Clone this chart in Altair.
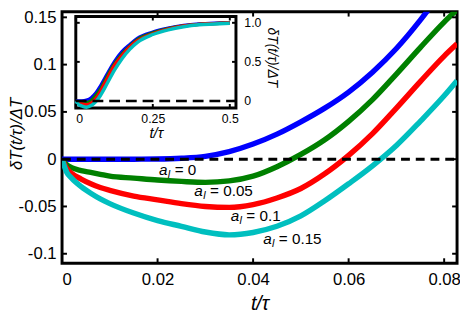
import altair as alt
import pandas as pd

# ---------------- data ----------------
series = ["0", "0.05", "0.1", "0.15"]
colors = ["#0000ff", "#008000", "#ff0000", "#00bfbf"]

# main panel: t/tau and deltaT/DeltaT
t_main = [0, 0.001, 0.002, 0.004, 0.006, 0.008, 0.01, 0.015, 0.02, 0.025, 0.03,
          0.035, 0.04, 0.045, 0.05, 0.055, 0.06, 0.065, 0.07, 0.075, 0.08, 0.0827]
main_a0 = [0, 0, 0, 0, 0, 0, 0, 0, 0.0002, 0.001, 0.003,
           0.008, 0.016, 0.0265, 0.0395, 0.054, 0.071, 0.092, 0.117, 0.147, 0.181, 0.2]
main_a005 = [0, -0.006, -0.009, -0.012, -0.014, -0.016, -0.018, -0.020, -0.022, -0.0235, -0.0245,
             -0.023, -0.018, -0.008, 0.005, 0.0205, 0.040, 0.063, 0.090, 0.118, 0.145, 0.158]
main_a01 = [0, -0.010, -0.015, -0.021, -0.026, -0.030, -0.033, -0.039, -0.043, -0.047, -0.050,
            -0.051, -0.048, -0.041, -0.031, -0.0155, 0.004, 0.027, 0.054, 0.082, 0.109, 0.122]
main_a015 = [0, -0.014, -0.020, -0.029, -0.036, -0.042, -0.047, -0.057, -0.065, -0.071, -0.077,
             -0.080, -0.0775, -0.071, -0.060, -0.044, -0.026, -0.007, 0.0145, 0.040, 0.067, 0.083]

# inset: longer time range
t_inset = [0, 0.01, 0.02, 0.035, 0.05, 0.065, 0.08, 0.1, 0.125, 0.15, 0.175, 0.2,
           0.25, 0.3, 0.35, 0.4, 0.45, 0.5]
inset_a0 = [0, 0, 0, 0.01, 0.04, 0.10, 0.19, 0.33, 0.50, 0.63, 0.72, 0.80,
            0.88, 0.93, 0.965, 0.985, 0.995, 1.0]
inset_a005 = [0, -0.018, -0.022, -0.023, 0.004, 0.07, 0.15, 0.30, 0.47, 0.60, 0.70, 0.785,
              0.87, 0.925, 0.96, 0.98, 0.99, 1.0]
inset_a01 = [0, -0.03, -0.04, -0.05, -0.03, 0.03, 0.12, 0.27, 0.45, 0.58, 0.69, 0.77,
             0.86, 0.92, 0.96, 0.98, 0.99, 1.0]
inset_a015 = [0, -0.047, -0.065, -0.08, -0.06, -0.01, 0.07, 0.21, 0.39, 0.54, 0.66, 0.75,
              0.85, 0.91, 0.95, 0.975, 0.985, 0.995]

# curve annotations (position in data units)
ann_text = ["= 0", "= 0.05", "= 0.1", "= 0.15"]
ann_t = [0.0203, 0.0277, 0.0353, 0.0421]
ann_v = [-0.0115, -0.034, -0.0605, -0.085]

# axes
x_ticks = [0, 0.02, 0.04, 0.06, 0.08]
y_ticks = [-0.1, -0.05, 0, 0.05, 0.1, 0.15]
x_dom = [0, 0.0827]
y_dom = [-0.11, 0.156]
xi_ticks = [0, 0.25, 0.5]
yi_ticks = [0, 0.5, 1.0]
xi_dom = [0, 0.52]
yi_dom = [-0.09, 1.08]

# ---------------- layout constants ----------------
W, H = 402, 256
IX0, IX1 = 14, 177      # inset left/right in plot pixels
IY0, IY1 = 5, 98        # inset top/bottom in plot pixels
FONT = "Liberation Sans"

main_vals = [main_a0, main_a005, main_a01, main_a015]
inset_vals = [inset_a0, inset_a005, inset_a01, inset_a015]


def xs():
    return alt.Scale(domain=x_dom, nice=False, zero=False)


def ys():
    return alt.Scale(domain=y_dom, nice=False, zero=False)


def xsi():
    return alt.Scale(domain=xi_dom, range=[IX0, IX1], nice=False, zero=False)


def ysi():
    return alt.Scale(domain=yi_dom, range=[IY1, IY0], nice=False, zero=False)


layers = []
# ---------------- main panel ----------------
for name, vals, col in zip(series, main_vals, colors):
    d = pd.DataFrame({"t": t_main, "v": vals})
    layers.append(
        alt.Chart(d).mark_line(strokeWidth=5.5, clip=True, interpolate="monotone", color=col)
        .encode(x=alt.X("t:Q", scale=xs(), axis=None), y=alt.Y("v:Q", scale=ys(), axis=None))
    )

zero_df = pd.DataFrame({"t": x_dom, "v": [0, 0]})
layers.append(alt.Chart(zero_df).mark_line(color="black", strokeWidth=3, strokeDash=[9, 6]).encode(
    x=alt.X("t:Q", scale=xs(), axis=alt.Axis(
        orient="bottom", values=x_ticks, labelExpr="'' + datum.value", ticks=False, domain=False,
        grid=False, labelFontSize=17, labelPadding=9, labelColor="black", labelFont=FONT,
        title="t/τ", titleFontSize=20, titleFontStyle="italic", titleFontWeight="normal",
        titleFont=FONT, titleBaseline="top", titleY=31, titleColor="black")),
    y=alt.Y("v:Q", scale=ys(), axis=alt.Axis(
        orient="left", values=y_ticks, labelExpr="'' + datum.value", ticks=False, domain=False,
        grid=False, labelFontSize=17, labelPadding=6, labelColor="black", labelFont=FONT,
        title="δT(t/τ)/ΔT", titleFontSize=17, titleFontStyle="italic", titleFontWeight="normal",
        titleFont=FONT, titleAngle=-90, titleX=-46, titleY=124, titleBaseline="middle",
        titleAlign="center", titleColor="black")),
))

xt = pd.DataFrame({"t": x_ticks})
yt = pd.DataFrame({"v": y_ticks})
tick_style = dict(color="black", strokeWidth=2)
layers += [
    alt.Chart(xt).mark_rule(**tick_style).encode(x=alt.X("t:Q", scale=xs(), axis=None), y=alt.value(H), y2=alt.value(H - 5)),
    alt.Chart(xt).mark_rule(**tick_style).encode(x=alt.X("t:Q", scale=xs(), axis=None), y=alt.value(0), y2=alt.value(5)),
    alt.Chart(yt).mark_rule(**tick_style).encode(y=alt.Y("v:Q", scale=ys(), axis=None), x=alt.value(0), x2=alt.value(5)),
    alt.Chart(yt).mark_rule(**tick_style).encode(y=alt.Y("v:Q", scale=ys(), axis=None), x=alt.value(W), x2=alt.value(W - 5)),
]

ann = pd.DataFrame({"t": ann_t, "v": ann_v, "txt": ann_text, "a": ["a"] * 4, "l": ["l"] * 4})


def aenc():
    return dict(x=alt.X("t:Q", scale=xs(), axis=None), y=alt.Y("v:Q", scale=ys(), axis=None))


layers += [
    alt.Chart(ann).mark_text(font=FONT, fontSize=15.5, fontStyle="italic", align="left", baseline="middle")
    .encode(text="a:N", **aenc()),
    alt.Chart(ann).mark_text(font=FONT, fontSize=11, fontStyle="italic", align="left", baseline="middle", dx=9, dy=5)
    .encode(text="l:N", **aenc()),
    alt.Chart(ann).mark_text(font=FONT, fontSize=15.5, align="left", baseline="middle", dx=16)
    .encode(text="txt:N", **aenc()),
]

# ---------------- inset ----------------
frame_df = pd.DataFrame({"x0": [xi_dom[0]], "x1": [xi_dom[1]], "y0": [yi_dom[0]], "y1": [yi_dom[1]]})
layers.append(alt.Chart(frame_df).mark_rect(fill="white", stroke="black", strokeWidth=3).encode(
    x=alt.X("x0:Q", scale=xsi(), axis=alt.Axis(
        orient="bottom", offset=IY1 - H, values=xi_ticks, labelExpr="'' + datum.value",
        ticks=False, domain=False, grid=False, labelFontSize=12.5, labelPadding=5, labelColor="black",
        labelFont=FONT, title="t/τ", titleFontSize=15, titleFontStyle="italic",
        titleFontWeight="normal", titleFont=FONT, titleBaseline="top", titleY=18, titleColor="black")),
    x2="x1:Q",
    y=alt.Y("y0:Q", scale=ysi(), axis=alt.Axis(
        orient="right", offset=IX1 - W, values=yi_ticks,
        labelExpr="datum.value == 1 ? '1.0' : '' + datum.value",
        ticks=False, domain=False, grid=False, labelFontSize=12.5, labelPadding=8, labelColor="black",
        labelFont=FONT, title="δT(t/τ)/ΔT", titleFontSize=14, titleFontStyle="italic",
        titleFontWeight="normal", titleFont=FONT, titleAngle=90, titleX=36, titleY=46,
        titleBaseline="middle", titleAlign="center", titleColor="black")),
    y2="y1:Q",
))
for name, vals, col in zip(series, inset_vals, colors):
    d = pd.DataFrame({"t": t_inset, "v": vals})
    layers.append(
        alt.Chart(d).mark_line(strokeWidth=3.5, interpolate="monotone", color=col)
        .encode(x=alt.X("t:Q", scale=xsi(), axis=None), y=alt.Y("v:Q", scale=ysi(), axis=None))
    )
izero = pd.DataFrame({"t": xi_dom, "v": [0, 0]})
layers.append(
    alt.Chart(izero).mark_line(color="black", strokeWidth=2.5, strokeDash=[11, 6])
    .encode(x=alt.X("t:Q", scale=xsi(), axis=None), y=alt.Y("v:Q", scale=ysi(), axis=None))
)
xti = pd.DataFrame({"t": xi_ticks})
yti = pd.DataFrame({"v": yi_ticks})
layers += [
    alt.Chart(xti).mark_rule(**tick_style).encode(x=alt.X("t:Q", scale=xsi(), axis=None), y=alt.value(IY1), y2=alt.value(IY1 - 4)),
    alt.Chart(xti).mark_rule(**tick_style).encode(x=alt.X("t:Q", scale=xsi(), axis=None), y=alt.value(IY0), y2=alt.value(IY0 + 4)),
    alt.Chart(yti).mark_rule(**tick_style).encode(y=alt.Y("v:Q", scale=ysi(), axis=None), x=alt.value(IX0), x2=alt.value(IX0 + 4)),
    alt.Chart(yti).mark_rule(**tick_style).encode(y=alt.Y("v:Q", scale=ysi(), axis=None), x=alt.value(IX1), x2=alt.value(IX1 - 4)),
]

chart = (
    alt.layer(*layers)
    .resolve_scale(x="independent", y="independent")
    .properties(width=W, height=H, autosize=alt.AutoSizeParams(type="none"),
                padding={"left": 55, "top": 1, "right": 3, "bottom": 50})
    .configure_view(stroke="black", strokeWidth=3)
)

chart.save("out.html", embed_options={"renderer": "svg", "actions": False})
